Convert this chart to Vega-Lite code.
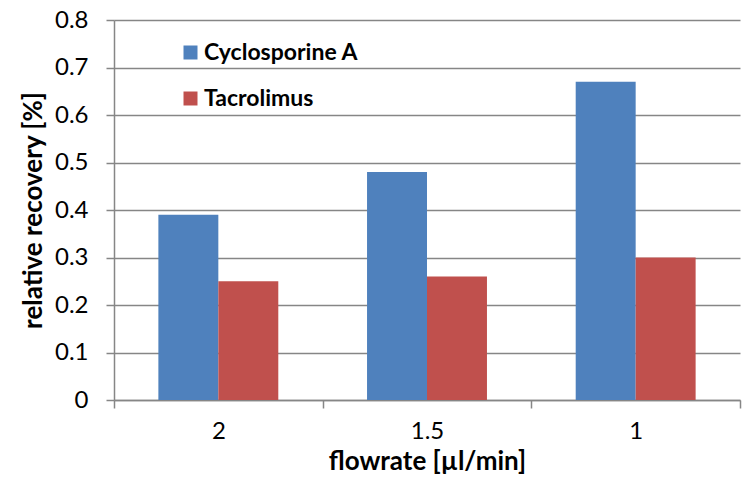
{
  "$schema": "https://vega.github.io/schema/vega-lite/v6.json",
  "autosize": {"type": "none"},
  "width": 626,
  "height": 380,
  "padding": {"left": 114, "top": 20, "right": 4, "bottom": 82},
  "background": "white",
  "data": {
    "values": [
      {"flowrate": "2", "drug": "Cyclosporine A", "recovery": 0.39},
      {"flowrate": "2", "drug": "Tacrolimus", "recovery": 0.25},
      {"flowrate": "1.5", "drug": "Cyclosporine A", "recovery": 0.48},
      {"flowrate": "1.5", "drug": "Tacrolimus", "recovery": 0.26},
      {"flowrate": "1", "drug": "Cyclosporine A", "recovery": 0.67},
      {"flowrate": "1", "drug": "Tacrolimus", "recovery": 0.30}
    ]
  },
  "config": {
    "view": {"stroke": null},
    "font": "Lato",
    "axis": {"labelFont": "Lato", "titleFont": "Lato"}
  },
  "mark": {"type": "bar", "stroke": null},
  "encoding": {
    "x": {
      "field": "flowrate",
      "type": "nominal",
      "sort": ["2", "1.5", "1"],
      "scale": {"paddingInner": 0, "paddingOuter": 0},
      "axis": {
        "title": "flowrate [µl/min]",
        "titleFontSize": 26,
        "titleFontWeight": "bold",
        "titleColor": "black",
        "titlePadding": 5,
        "labelAngle": 0,
        "labelFontSize": 24,
        "labelColor": "black",
        "labelPadding": 11,
        "tickBand": "extent",
        "tickSize": 8,
        "tickColor": "#868686",
        "tickWidth": 1.5,
        "domainColor": "#868686",
        "domainWidth": 1.5
      }
    },
    "xOffset": {
      "field": "drug",
      "type": "nominal",
      "sort": ["Cyclosporine A", "Tacrolimus"],
      "scale": {"paddingInner": 0, "paddingOuter": 0.74}
    },
    "y": {
      "field": "recovery",
      "type": "quantitative",
      "scale": {"domain": [0, 0.8]},
      "axis": {
        "title": "relative recovery [%]",
        "titleFontSize": 26,
        "titleFontWeight": "bold",
        "titleColor": "black",
        "titlePadding": 8,
        "values": [0, 0.1, 0.2, 0.3, 0.4, 0.5, 0.6, 0.7, 0.8],
        "format": "~g",
        "labelFontSize": 24,
        "labelColor": "black",
        "labelPadding": 18,
        "tickSize": 8,
        "tickColor": "#868686",
        "tickWidth": 1.5,
        "domainColor": "#868686",
        "domainWidth": 1.5,
        "grid": true,
        "gridColor": "#868686",
        "gridWidth": 1.5
      }
    },
    "color": {
      "field": "drug",
      "type": "nominal",
      "sort": ["Cyclosporine A", "Tacrolimus"],
      "scale": {"domain": ["Cyclosporine A", "Tacrolimus"], "range": ["#4F81BD", "#C0504D"]},
      "legend": {
        "title": null,
        "orient": "none",
        "legendX": 65,
        "legendY": 21,
        "symbolType": "square",
        "symbolSize": 196,
        "symbolStrokeWidth": 0,
        "labelFontSize": 23,
        "labelFontWeight": "bold",
        "labelColor": "black",
        "labelOffset": 2,
        "labelLimit": 400,
        "rowPadding": 22
      }
    }
  }
}
